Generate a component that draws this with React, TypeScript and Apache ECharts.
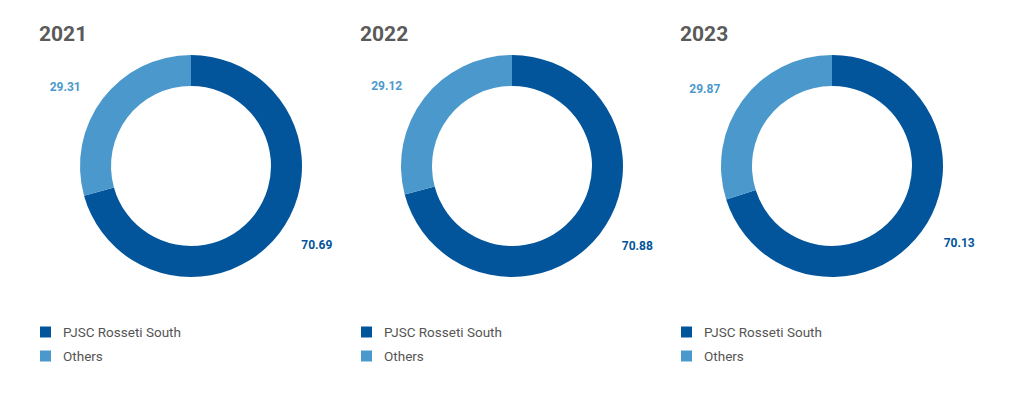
import React, { useEffect, useRef } from "react";
import * as echarts from "echarts";

const years = ["2021", "2022", "2023"];
const categories = ["PJSC Rosseti South", "Others"];
const rossetiSouth = [70.69, 70.88, 70.13];
const others = [29.31, 29.12, 29.87];
const colors = ["#02559b", "#4b99cc"];
const centersX = [191, 512, 832];
const titleLeft = [39, 360, 680];
const FONT = "'Roboto', sans-serif";

export default function App() {
  const ref = useRef<HTMLDivElement>(null);
  useEffect(() => {
    if (!ref.current) return;
    const chart = echarts.init(ref.current, undefined, { renderer: "svg" });
    const option: any = {
      animation: false,
      backgroundColor: "#ffffff",
      title: years.map((y, i) => ({
        text: y,
        left: titleLeft[i],
        top: 23,
        padding: 0,
        textStyle: { fontSize: 21, fontWeight: "bold", color: "#5a5a5a", fontFamily: FONT },
      })),
      legend: years.map((_, i) => ({
        data: categories,
        orient: "vertical",
        left: titleLeft[i] + 1,
        top: 325,
        padding: 0,
        icon: "rect",
        itemWidth: 11,
        itemHeight: 11,
        itemGap: 10,
        selectedMode: false,
        textStyle: { fontSize: 13.5, color: "#555555", fontFamily: FONT, padding: [0, 0, 0, 7] },
      })),
      series: years.map((y, i) => ({
        type: "pie",
        name: y,
        center: [centersX[i], 166],
        radius: [80, 111],
        startAngle: 90,
        clockwise: true,
        silent: true,
        avoidLabelOverlap: false,
        label: {
          show: true,
          position: "outside",
          formatter: (p: any) => p.value.toFixed(2),
          fontSize: 12,
          fontWeight: "bold",
          fontFamily: FONT,
          distanceToLabelLine: 6,
        },
        labelLine: { show: false, length: 20, length2: 0 },
        data: [
          { name: categories[0], value: rossetiSouth[i], itemStyle: { color: colors[0] }, label: { color: colors[0] } },
          { name: categories[1], value: others[i], itemStyle: { color: colors[1] }, label: { color: colors[1] } },
        ],
      })),
    };
    chart.setOption(option);
    return () => chart.dispose();
  }, []);
  return (
    <div
      ref={ref}
      style={{ position: "fixed", left: 0, top: 0, width: 1026, height: 396 }}
    />
  );
}
